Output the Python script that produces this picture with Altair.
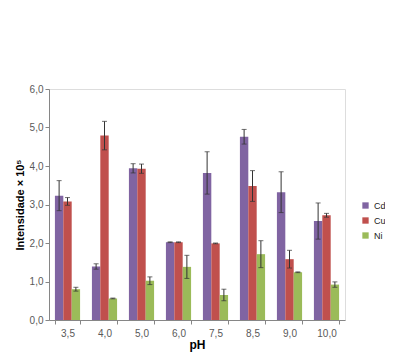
import altair as alt
import pandas as pd

ph = ["3,5", "4,0", "5,0", "6,0", "7,5", "8,5", "9,0", "10,0"]
metals = ["Cd", "Cu", "Ni"]
cd = [3.23, 1.39, 3.94, 2.02, 3.82, 4.76, 3.32, 2.57]
cd_err = [0.39, 0.07, 0.12, 0.01, 0.55, 0.19, 0.53, 0.47]
cu = [3.08, 4.79, 3.93, 2.02, 1.99, 3.48, 1.58, 2.72]
cu_err = [0.10, 0.37, 0.12, 0.01, 0.01, 0.40, 0.23, 0.05]
ni = [0.80, 0.56, 1.02, 1.38, 0.65, 1.71, 1.24, 0.92]
ni_err = [0.05, 0.01, 0.10, 0.30, 0.15, 0.35, 0.01, 0.07]
colors = ["#8064A2", "#C0504D", "#9BBB59"]

rows = []
for m, vals, errs in zip(metals, [cd, cu, ni], [cd_err, cu_err, ni_err]):
    for p, v, e in zip(ph, vals, errs):
        rows.append({"pH": p, "metal": m, "v": v, "lo": v - e, "hi": v + e})
df = pd.DataFrame(rows)

x = alt.X("pH:N", sort=ph, title="pH",
          scale=alt.Scale(paddingInner=0.32, paddingOuter=0.16),
          axis=alt.Axis(tickBand="extent", labelAngle=0, labelColor="#595959",
                        labelFontSize=10, labelPadding=4, tickSize=4,
                        domainColor="#868686", tickColor="#868686",
                        titleFontSize=12, titleFontWeight="bold", titlePadding=1,
                        titleColor="#000000"))
xo = alt.XOffset("metal:N", sort=metals, scale=alt.Scale(paddingInner=0, paddingOuter=0))
yscale = alt.Scale(domain=[0, 6], nice=False)
yaxis = alt.Axis(values=[0, 1, 2, 3, 4, 5, 6], grid=False, labelOverlap=False,
                 labelExpr="replace(format(datum.value, '.1f'), '.', ',')",
                 labelColor="#595959", labelFontSize=10, tickSize=4,
                 domainColor="#868686", tickColor="#868686",
                 titleFontSize=11, titleFontWeight="bold", titlePadding=4,
                 titleColor="#000000")

bars = alt.Chart(df).mark_bar().encode(
    x=x, xOffset=xo,
    y=alt.Y("v:Q", title="Intensidade × 10⁵", scale=yscale, axis=yaxis),
    color=alt.Color("metal:N", sort=metals, title=None,
                    scale=alt.Scale(domain=metals, range=colors),
                    legend=alt.Legend(orient="none", legendX=312, legendY=112,
                                      symbolType="square", symbolSize=40,
                                      symbolStrokeWidth=0, labelFontSize=9,
                                      rowPadding=5, labelColor="#222222")),
)

rules = alt.Chart(df).mark_rule(color="#333333", strokeWidth=1).encode(
    x=alt.X("pH:N", sort=ph), xOffset=xo,
    y=alt.Y("lo:Q", title="Intensidade × 10⁵", scale=yscale, axis=yaxis), y2="hi:Q")
caps_hi = alt.Chart(df).mark_tick(color="#333333", thickness=1, size=5).encode(
    x=alt.X("pH:N", sort=ph), xOffset=xo,
    y=alt.Y("hi:Q", title="Intensidade × 10⁵", scale=yscale, axis=yaxis))
caps_lo = alt.Chart(df).mark_tick(color="#333333", thickness=1, size=5).encode(
    x=alt.X("pH:N", sort=ph), xOffset=xo,
    y=alt.Y("lo:Q", title="Intensidade × 10⁵", scale=yscale, axis=yaxis))

chart = alt.layer(bars, rules, caps_hi, caps_lo).properties(
    width=296, height=231,
    autosize=alt.AutoSizeParams(type="none"),
    padding={"left": 41, "top": 81, "right": 40, "bottom": 33},
).configure_view(stroke="#868686").configure(font="Liberation Sans")

chart.save("out.html", embed_options={"renderer": "svg", "actions": False})
